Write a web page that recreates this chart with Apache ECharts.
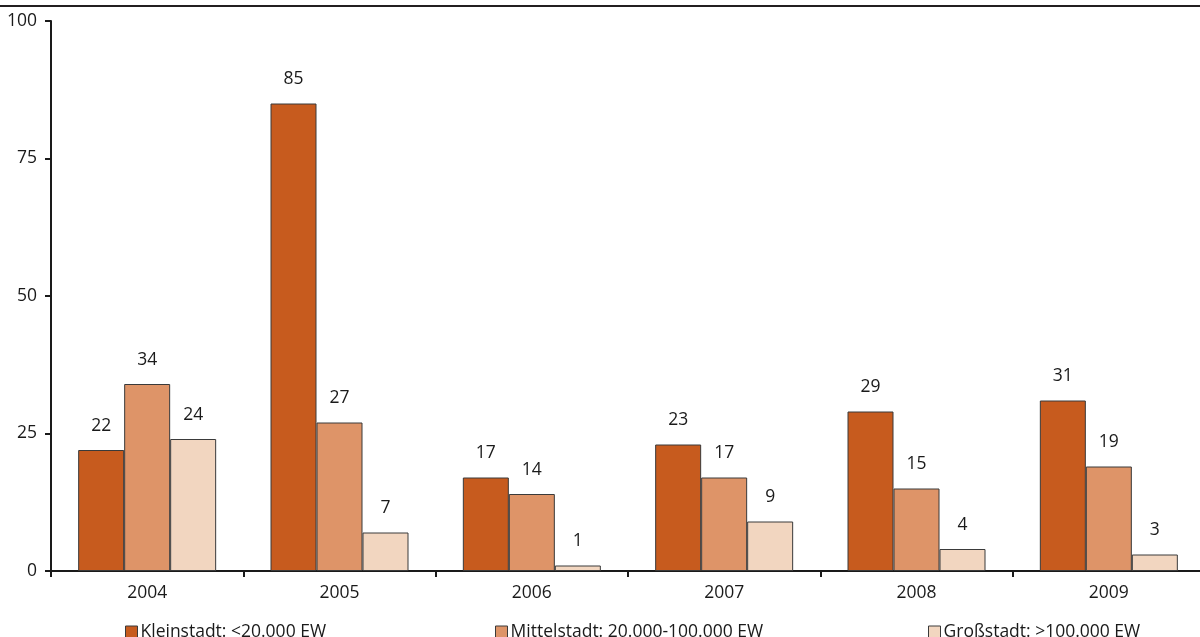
<!DOCTYPE html>
<html>
<head>
<meta charset="utf-8">
<script src="https://cdn.jsdelivr.net/npm/echarts@6/dist/echarts.min.js"></script>
<style>
  html, body { margin: 0; padding: 0; background: #fff; }
  #chart { width: 1200px; height: 637px; }
</style>
</head>
<body>
<div id="chart"></div>
<script>
// Jahre und Werte je Gemeindegröße
const years = ['2004', '2005', '2006', '2007', '2008', '2009'];
const kleinstadt = [22, 85, 17, 23, 29, 31];
const mittelstadt = [34, 27, 14, 17, 15, 19];
const grossstadt = [24, 7, 1, 9, 4, 3];
const seriesNames = ['Kleinstadt: <20.000 EW', 'Mittelstadt: 20.000-100.000 EW', 'Großstadt: >100.000 EW'];
const yTicks = [0, 25, 50, 75, 100];

const colors = ['#C75B1E', '#DE9468', '#F2D6C0'];
const font = '"Open Sans", "Noto Sans", sans-serif';
const textColor = '#1a1a1a';
const fontSize = 17.5;

const chart = echarts.init(document.getElementById('chart'), null, { renderer: 'canvas' });

function makeSeries(name, data, color) {
  return {
    name: name,
    type: 'bar',
    data: data,
    barWidth: 46,
    barGap: '0%',
    itemStyle: { color: color, borderColor: '#3a3a3a', borderWidth: 1 },
    label: {
      show: true,
      position: 'top',
      distance: 15,
      color: textColor,
      fontFamily: font,
      fontSize: fontSize
    }
  };
}

function legendAt(left, name) {
  return {
    data: [name],
    left: left,
    top: 618,
    itemWidth: 12,
    itemHeight: 12,
    itemGap: 4,
    icon: 'rect',
    itemStyle: { borderColor: '#3a3a3a', borderWidth: 1 },
    textStyle: { color: textColor, fontFamily: font, fontSize: fontSize, padding: [0, 0, 0, -2] },
    selectedMode: false
  };
}

chart.setOption({
  animation: false,
  color: colors,
  grid: { left: 51, width: 1154, top: 21, height: 550, containLabel: false, outerBoundsMode: 'none' },
  legend: [
    legendAt(120, seriesNames[0]),
    legendAt(490, seriesNames[1]),
    legendAt(923, seriesNames[2])
  ],
  xAxis: {
    type: 'category',
    data: years,
    axisLine: { lineStyle: { color: '#1a1a1a', width: 2 } },
    axisTick: { show: true, length: 6, lineStyle: { color: '#1a1a1a', width: 2 } },
    axisLabel: { color: textColor, fontFamily: font, fontSize: fontSize, margin: 13 }
  },
  yAxis: {
    type: 'value',
    min: yTicks[0],
    max: yTicks[yTicks.length - 1],
    interval: 25,
    axisLine: { show: true, lineStyle: { color: '#1a1a1a', width: 2 } },
    axisTick: { show: true, length: 6, lineStyle: { color: '#1a1a1a', width: 2 } },
    axisLabel: { color: textColor, fontFamily: font, fontSize: fontSize, margin: 14 },
    splitLine: { show: false }
  },
  graphic: [
    { type: 'rect', shape: { x: 0, y: 5, width: 1200, height: 2 }, style: { fill: '#231f20' }, silent: true }
  ],
  series: [
    makeSeries(seriesNames[0], kleinstadt, colors[0]),
    makeSeries(seriesNames[1], mittelstadt, colors[1]),
    makeSeries(seriesNames[2], grossstadt, colors[2])
  ]
});
</script>
</body>
</html>
